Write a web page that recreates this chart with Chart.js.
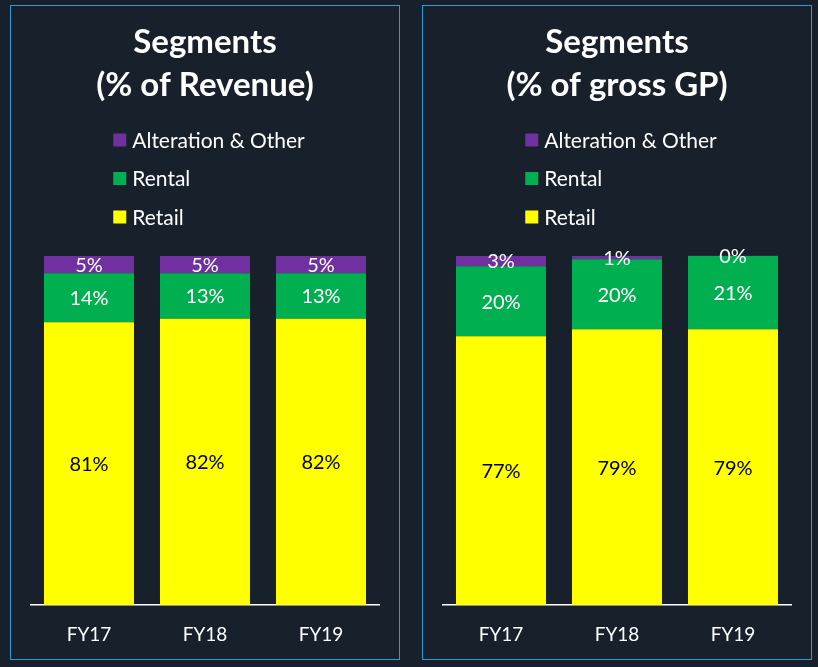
<!DOCTYPE html>
<html>
<head>
<meta charset="utf-8">
<script src="https://cdn.jsdelivr.net/npm/chart.js@4.4.1/dist/chart.umd.min.js"></script>
<style>
    body { margin: 0; background: #17202b; width: 818px; height: 667px; overflow: hidden; }
    .panel { position: absolute; top: 5px; width: 388px; height: 653px; border: 1px solid #2e9ad8; }
    #panelRev { left: 10px; }
    #panelGp { left: 422px; }
</style>
</head>
<body>
<div class="panel" id="panelRev"><canvas id="revChart"></canvas></div>
<div class="panel" id="panelGp"><canvas id="gpChart"></canvas></div>
<script>
const years = ['FY17', 'FY18', 'FY19'];
const segmentNames = ['Retail', 'Rental', 'Alteration & Other'];
const segmentColors = ['#ffff00', '#00b050', '#7030a0'];

// % of revenue
const revRetail = [81, 82, 82];
const revRental = [14, 13, 13];
const revOther = [5, 5, 5];

// % of gross GP
const gpRetail = [77, 79, 79];
const gpRental = [20, 20, 21];
const gpOther = [3, 1, 0.4];

// legend drawn as a vertical list under the title, top item first
const stackLegend = {
    id: 'stackLegend',
    afterDraw(chart) {
        const ctx = chart.ctx;
        const sets = chart.data.datasets.slice().reverse();
        const box = 13, gap = 6, rowH = 38.5;
        ctx.save();
        ctx.font = '21px Lato';
        ctx.textBaseline = 'middle';
        ctx.textAlign = 'left';
        const widest = Math.max(...sets.map(d => ctx.measureText(d.label).width));
        const x0 = (chart.width - (box + gap + widest)) / 2 + 4;
        let y = chart.titleBlock.top + 134;
        sets.forEach(d => {
            ctx.fillStyle = d.backgroundColor;
            ctx.fillRect(x0, y - box / 2, box, box);
            ctx.fillStyle = '#ffffff';
            ctx.fillText(d.label, x0 + box + gap, y + 1);
            y += rowH;
        });
        ctx.restore();
    }
};

// percentage inside each segment
const segLabels = {
    id: 'segLabels',
    afterDatasetsDraw(chart) {
        const ctx = chart.ctx;
        ctx.save();
        ctx.font = '20px Lato';
        ctx.textAlign = 'center';
        ctx.textBaseline = 'middle';
        chart.data.datasets.forEach((ds, i) => {
            chart.getDatasetMeta(i).data.forEach((bar, j) => {
                const p = bar.getProps(['x', 'y', 'base'], true);
                ctx.fillStyle = i === 0 ? '#000000' : '#ffffff';
                ctx.fillText(Math.round(ds.data[j]) + '%', p.x, (p.y + p.base) / 2 + 1);
            });
        });
        ctx.restore();
    }
};

function makeChart(id, titleLines, retail, rental, other) {
    const series = [retail, rental, other];
    new Chart(document.getElementById(id), {
        type: 'bar',
        data: {
            labels: years,
            datasets: series.map((vals, i) => ({
                label: segmentNames[i],
                data: vals,
                backgroundColor: segmentColors[i],
                borderWidth: 0,
                barPercentage: 0.776,
                categoryPercentage: 1
            }))
        },
        options: {
            responsive: true,
            maintainAspectRatio: false,
            animation: false,
            layout: { padding: { left: 20, right: 20, top: 0, bottom: -5 } },
            plugins: {
                legend: { display: false },
                tooltip: { enabled: false },
                title: {
                    display: true,
                    text: titleLines,
                    color: '#ffffff',
                    font: { family: 'Lato', size: 33, weight: 'bold', lineHeight: 1.3 },
                    padding: { top: 15, bottom: 149 }
                }
            },
            scales: {
                x: {
                    stacked: true,
                    grid: { display: false, drawTicks: false },
                    border: { display: true, color: '#ffffff', width: 1.5 },
                    ticks: { color: '#ffffff', padding: 18, font: { family: 'Lato', size: 19 } }
                },
                y: {
                    stacked: true,
                    display: false,
                    min: 0,
                    max: 100
                }
            }
        },
        plugins: [stackLegend, segLabels]
    });
}

makeChart('revChart', ['Segments', '(% of Revenue)'], revRetail, revRental, revOther);
makeChart('gpChart', ['Segments', '(% of gross GP)'], gpRetail, gpRental, gpOther);
</script>
</body>
</html>
